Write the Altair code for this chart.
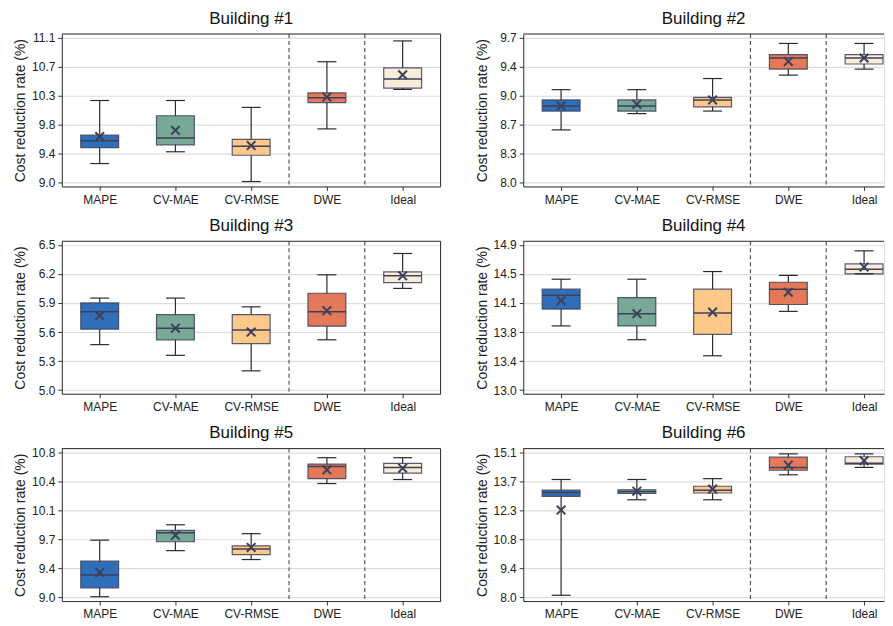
import json
import altair as alt
import pandas as pd

methods = ["MAPE", "CV-MAE", "CV-RMSE", "DWE", "Ideal"]
positions = [1, 2, 3, 4, 5]
box_colors = ["#2f6fba", "#78a996", "#fdc98a", "#e4795a", "#f6eed9"]
titles = ["Building #1", "Building #2", "Building #3", "Building #4", "Building #5", "Building #6"]
separators = [3.5, 4.5]

whisker_lo = [
    [9.28, 9.45, 9.02, 9.78, 10.35],
    [8.62, 8.81, 8.84, 9.26, 9.33],
    [5.47, 5.36, 5.20, 5.52, 6.05],
    [13.84, 13.66, 13.45, 14.03, 14.52],
    [9.01, 9.58, 9.47, 10.41, 10.46],
    [8.11, 12.77, 12.77, 13.99, 14.35],
]
q1 = [
    [9.51, 9.55, 9.40, 10.16, 10.37],
    [8.84, 8.84, 8.89, 9.33, 9.39],
    [5.63, 5.52, 5.48, 5.66, 6.11],
    [14.06, 13.84, 13.73, 14.12, 14.52],
    [9.12, 9.69, 9.53, 10.47, 10.54],
    [12.94, 13.08, 13.10, 14.21, 14.51],
]
median = [
    [9.61, 9.65, 9.53, 10.23, 10.50],
    [8.90, 8.90, 8.97, 9.46, 9.46],
    [5.81, 5.64, 5.62, 5.81, 6.18],
    [14.24, 14.00, 14.01, 14.32, 14.58],
    [9.28, 9.80, 9.60, 10.62, 10.61],
    [13.13, 13.18, 13.24, 14.35, 14.55],
]
q3 = [
    [9.69, 9.97, 9.63, 10.30, 10.66],
    [8.97, 8.97, 9.00, 9.50, 9.50],
    [5.90, 5.78, 5.78, 6.00, 6.22],
    [14.32, 14.21, 14.32, 14.41, 14.65],
    [9.45, 9.83, 9.64, 10.65, 10.66],
    [13.24, 13.26, 13.43, 14.85, 14.87],
]
whisker_hi = [
    [10.19, 10.19, 10.09, 10.75, 11.05],
    [9.09, 9.09, 9.22, 9.63, 9.63],
    [5.95, 5.95, 5.86, 6.19, 6.41],
    [14.45, 14.45, 14.55, 14.50, 14.82],
    [9.71, 9.90, 9.79, 10.73, 10.73],
    [13.76, 13.76, 13.80, 15.01, 15.01],
]
means = [
    [9.67, 9.76, 9.54, 10.24, 10.56],
    [8.90, 8.92, 8.97, 9.42, 9.46],
    [5.77, 5.64, 5.60, 5.82, 6.18],
    [14.17, 14.00, 14.02, 14.28, 14.61],
    [9.31, 9.77, 9.62, 10.58, 10.60],
    [12.27, 13.19, 13.29, 14.46, 14.68],
]
y_ticks = [
    [9.0, 9.42, 9.84, 10.26, 10.68, 11.1],
    [8.0, 8.34, 8.68, 9.02, 9.36, 9.7],
    [5.0, 5.3, 5.6, 5.9, 6.2, 6.5],
    [13.0, 13.38, 13.76, 14.14, 14.52, 14.9],
    [9.0, 9.36, 9.72, 10.08, 10.44, 10.8],
    [8.0, 9.42, 10.84, 12.26, 13.68, 15.1],
]

FONT = "Liberation Sans"
H = 153
UNIT = 76.0
FRAME = "#333333"
NAVY = "#3d405b"
label_expr = json.dumps(methods) + "[datum.value - 1]"


def panel(i, col):
    W = 380 if col == 0 else 362
    xdom = [0.5, 0.5 + W / UNIT]
    t = y_ticks[i]
    r = t[-1] - t[0]
    ydom = [t[0] - 0.024 * r, t[-1] + 0.024 * r]
    xs = alt.Scale(domain=xdom, nice=False, zero=False)
    ys = alt.Scale(domain=ydom, nice=False, zero=False)

    df = pd.DataFrame({
        "method": methods,
        "pos": positions,
        "lo": whisker_lo[i],
        "q1": q1[i],
        "med": median[i],
        "q3": q3[i],
        "hi": whisker_hi[i],
        "mean": means[i],
    })
    base = alt.Chart(df).transform_calculate(
        b0="datum.pos - 0.25", b1="datum.pos + 0.25",
        c0="datum.pos - 0.125", c1="datum.pos + 0.125",
    )
    xaxis = alt.Axis(values=positions, labelExpr=label_expr, title=None, grid=False,
                     tickSize=4, labelPadding=4, labelFontSize=12, labelFont=FONT,
                     labelColor="#222222", domainColor=FRAME, tickColor=FRAME,
                     labelAngle=0)
    yaxis = alt.Axis(values=t, format=".1f", title="Cost reduction rate (%)",
                     titleFont=FONT, titleFontSize=14, titleFontWeight="normal",
                     titleColor="#222222", titlePadding=4,
                     labelFont=FONT, labelFontSize=12, labelColor="#222222",
                     tickSize=4, labelPadding=3, domainColor=FRAME, tickColor=FRAME,
                     grid=True, gridColor="#dddddd", gridWidth=1.2,
                     minExtent=30, maxExtent=30)

    def X(f):
        return alt.X(f, type="quantitative", scale=xs, axis=xaxis)

    def Y(f):
        return alt.Y(f, type="quantitative", scale=ys, axis=yaxis)

    whisk = base.mark_rule(color="#2b2b2b", strokeWidth=1.2).encode(
        x=X("pos"), y=Y("lo"), y2="hi:Q")
    seps = alt.Chart(pd.DataFrame({"sep": separators})).mark_rule(
        color="#555555", strokeWidth=1.2, strokeDash=[4, 3]).encode(
        x=X("sep"), y=alt.value(0), y2=alt.value(H))
    boxes = base.mark_bar(stroke=NAVY, strokeWidth=1.2, strokeOpacity=0.85).encode(
        x=X("b0:Q"), x2="b1:Q", y=Y("q1:Q"), y2="q3:Q",
        color=alt.Color("method:N", scale=alt.Scale(domain=methods, range=box_colors), legend=None))
    cap_lo = base.mark_rule(color="#2b2b2b", strokeWidth=1.2).encode(
        x=X("c0:Q"), x2="c1:Q", y=Y("lo:Q"))
    cap_hi = base.mark_rule(color="#2b2b2b", strokeWidth=1.2).encode(
        x=X("c0:Q"), x2="c1:Q", y=Y("hi:Q"))
    med = base.mark_rule(color=NAVY, strokeWidth=1.5).encode(
        x=X("b0:Q"), x2="b1:Q", y=Y("med:Q"))
    mean = base.mark_point(shape="M-1,-1L1,1M-1,1L1,-1", filled=False, size=75,
                           strokeWidth=2, color=NAVY, opacity=1).encode(
        x=X("pos:Q"), y=Y("mean:Q"))
    frame_data = alt.Data(values=[{"k": 0}])
    top = alt.Chart(frame_data).mark_rule(color=FRAME, strokeWidth=1).encode(
        x=alt.value(0), x2=alt.value(W), y=alt.value(0))
    layers = [whisk, seps, boxes, cap_lo, cap_hi, med, mean, top]
    if col == 0:
        right = alt.Chart(frame_data).mark_rule(color=FRAME, strokeWidth=1).encode(
            x=alt.value(W), y=alt.value(0), y2=alt.value(H))
        layers.append(right)
    return alt.layer(*layers).properties(
        width=W, height=H,
        title=alt.TitleParams(titles[i], font=FONT, fontSize=17, fontWeight="normal",
                              color="#111111", anchor="middle", offset=4))


rows = []
for rr in range(3):
    rows.append(alt.hconcat(panel(2 * rr, 0), panel(2 * rr + 1, 1), spacing=33))

chart = alt.vconcat(*rows, spacing=10).properties(
    padding={"left": 5, "top": 0, "right": 0, "bottom": 0}
).configure_view(stroke=None).configure(background="white")

chart.save("out.html", embed_options={"renderer": "svg", "actions": False})
